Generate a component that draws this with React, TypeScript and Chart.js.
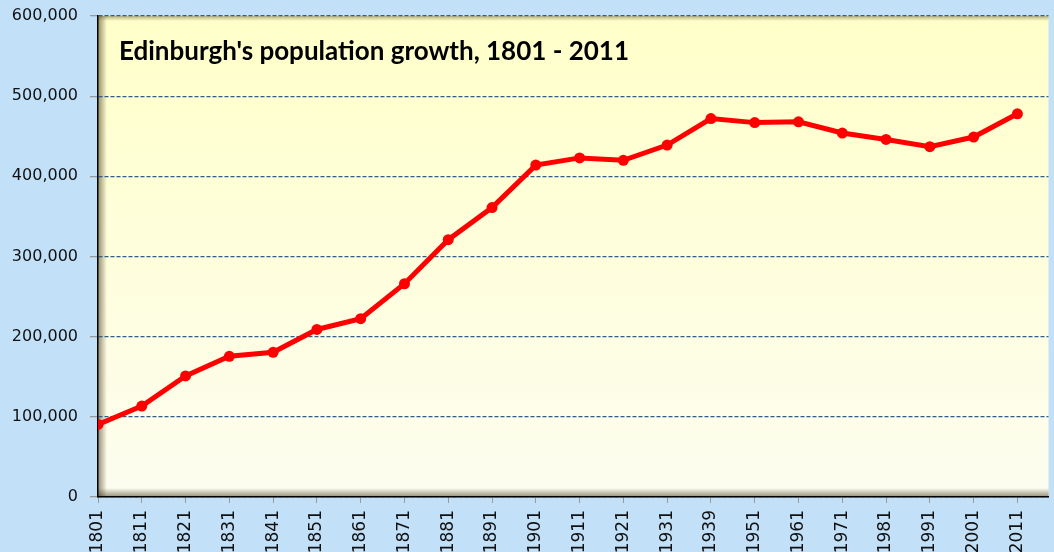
import React, { useEffect, useRef } from "react";
import { Chart, registerables } from "chart.js";

Chart.register(...registerables);

const years = [
  "1801", "1811", "1821", "1831", "1841", "1851", "1861", "1871", "1881", "1891", "1901",
  "1911", "1921", "1931", "1939", "1951", "1961", "1971", "1981", "1991", "2001", "2011",
];
const population = [
  90500, 113400, 151000, 175500, 180500, 209000, 222500, 266000, 321000, 361000, 414000,
  423000, 420000, 439000, 472000, 467000, 468000, 454000, 446000, 437000, 449000, 478000,
];
const titleText = "Edinburgh's population growth, 1801 - 2011";

const bgPlugin = {
  id: "bgPlugin",
  beforeDraw(chart: any) {
    const { ctx, chartArea: a, width, height } = chart;
    ctx.save();
    ctx.fillStyle = "#c2e1f9";
    ctx.fillRect(0, 0, width, height);
    const g = ctx.createLinearGradient(0, a.top, 0, a.bottom);
    g.addColorStop(0, "#ffffc9");
    g.addColorStop(1, "#fdfdf0");
    ctx.fillStyle = g;
    ctx.fillRect(a.left, a.top, a.right - a.left, a.bottom - a.top);
    const gl = ctx.createLinearGradient(a.left, 0, a.left + 9, 0);
    gl.addColorStop(0, "rgba(60,50,20,0.55)");
    gl.addColorStop(1, "rgba(60,50,20,0)");
    ctx.fillStyle = gl;
    ctx.fillRect(a.left, a.top, 9, a.bottom - a.top);
    const gb = ctx.createLinearGradient(0, a.bottom, 0, a.bottom - 9);
    gb.addColorStop(0, "rgba(60,50,20,0.55)");
    gb.addColorStop(1, "rgba(60,50,20,0)");
    ctx.fillStyle = gb;
    ctx.fillRect(a.left, a.bottom - 9, a.right - a.left, 9);
    const gt = ctx.createLinearGradient(0, a.top, 0, a.top + 5);
    gt.addColorStop(0, "rgba(90,80,30,0.45)");
    gt.addColorStop(1, "rgba(90,80,30,0)");
    ctx.fillStyle = gt;
    ctx.fillRect(a.left, a.top, a.right - a.left, 5);
    ctx.restore();
  },
  afterDraw(chart: any) {
    const { ctx, chartArea: a } = chart;
    ctx.save();
    ctx.font = "bold 26px Lato";
    ctx.fillStyle = "#000";
    ctx.textAlign = "left";
    ctx.textBaseline = "middle";
    ctx.fillText(titleText, a.left + 21, 52);
    ctx.restore();
  },
};

export default function App() {
  const ref = useRef<HTMLCanvasElement>(null);
  useEffect(() => {
    const chart = new Chart(ref.current!, {
      type: "line",
      data: {
        datasets: [
          {
            data: population.map((v, i) => ({ x: i, y: v })),
            borderColor: "#ff0000",
            backgroundColor: "#ff0000",
            borderWidth: 5,
            pointRadius: 5.5,
            pointBorderWidth: 0,
            pointBackgroundColor: "#ff0000",
            tension: 0,
          },
        ],
      },
      options: {
        animation: false,
        responsive: true,
        maintainAspectRatio: false,
        layout: { padding: { top: 16, left: 0, right: 0, bottom: 0 } },
        plugins: { legend: { display: false }, tooltip: { enabled: false }, title: { display: false } },
        scales: {
          x: {
            type: "linear",
            min: 0,
            max: 21.71,
            afterBuildTicks(scale: any) {
              scale.ticks = years.map((_, i) => ({ value: i }));
            },
            afterFit(scale: any) {
              scale.height = 55;
              scale.paddingLeft = 0;
              scale.paddingRight = 0;
            },
            ticks: {
              autoSkip: false,
              maxRotation: 90,
              minRotation: 90,
              padding: 7,
              color: "#111",
              font: { family: "DejaVu Sans", size: 17 },
              callback: (v: any) => years[v] ?? "",
            },
            grid: { drawOnChartArea: false, drawTicks: true, tickLength: 6, tickColor: "#9a9a9a" },
            border: { color: "#000", width: 1.5 },
          },
          y: {
            min: 0,
            max: 600000,
            afterFit(scale: any) {
              scale.width = 98;
              scale.paddingTop = 0;
              scale.paddingBottom = 0;
            },
            ticks: {
              stepSize: 100000,
              padding: 12,
              color: "#111",
              font: { family: "DejaVu Sans", size: 16 },
              callback: (v: any) => Number(v).toLocaleString("en-US"),
            },
            grid: {
              color: "#2f5f88",
              lineWidth: 1.3,
              tickLength: 8,
              tickColor: "#9a9a9a",
              tickBorderDash: [],
            } as any,
            border: { color: "#000", width: 1.5, dash: [4, 2] } as any,
          },
        },
      },
      plugins: [bgPlugin],
    });
    return () => chart.destroy();
  }, []);
  return (
    <div style={{ position: "fixed", left: 0, top: 0, width: 1054, height: 552 }}>
      <canvas ref={ref} />
    </div>
  );
}
